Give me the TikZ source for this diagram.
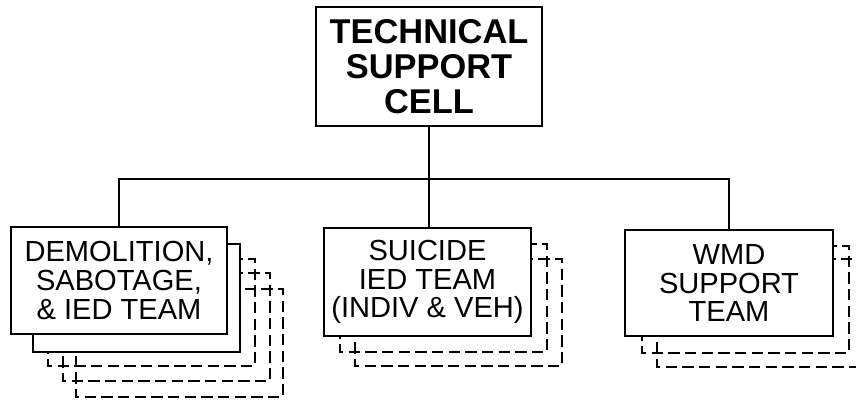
\documentclass[tikz,border=0pt]{standalone}
\usepackage{fontspec}
\setmainfont{Liberation Sans}
\begin{document}
\begin{tikzpicture}[x=0.75pt,y=-0.75pt,
  front/.style={draw=black, line width=0.9pt, fill=white, inner sep=0pt, align=center},
  topbox/.style={front, minimum width=169.5pt, minimum height=89.25pt,
     font=\fontsize{25.8}{26}\selectfont\bfseries},
  teambox/.style={front, font=\fontsize{21.8}{21.6}\selectfont},
  backsolid/.style={draw=black, line width=0.9pt, fill=white},
  backdash/.style={draw=black, line width=1.8pt, dash pattern=on 8.5pt off 4pt},
  link/.style={draw=black, line width=0.8pt}]
\clip (0,0) rectangle (856,401);
\useasboundingbox (0,0) rectangle (856,401);
% stacked copies behind the team boxes
\draw[backdash] (76,289) rectangle (283,397);
\draw[backdash] (63,273) rectangle (270,381);
\draw[backdash] (48,259) rectangle (255,366);
\draw[backsolid] (33,244) rectangle (240,352);
\draw[backdash] (355,259) rectangle (562,366);
\draw[backdash] (340,244) rectangle (547,352);
\draw[backdash] (657,259) rectangle (880,367);
\draw[backdash] (642,246) rectangle (849,353);
% main boxes
\node[topbox] (top) at (429,66.5) {TECHNICAL\\SUPPORT\\CELL};
\node[teambox, minimum width=162pt, minimum height=80.25pt] (left) at (119,280.5)
  {DEMOLITION,\\SABOTAGE,\\\& IED TEAM};
\node[teambox, minimum width=155.25pt, minimum height=81pt] (mid) at (427.5,282)
  {SUICIDE\\IED TEAM\\(INDIV \& VEH)};
\node[teambox, minimum width=156pt, minimum height=79.5pt] (right) at (729,283)
  {WMD\\SUPPORT\\TEAM};
% connectors
\coordinate (bus) at (429,179);
\draw[link] (top.south) -- (bus);
\draw[link] (left.north) |- (bus) -| (right.north);
\draw[link] (bus) -- (bus |- mid.north);
\end{tikzpicture}
\end{document}
